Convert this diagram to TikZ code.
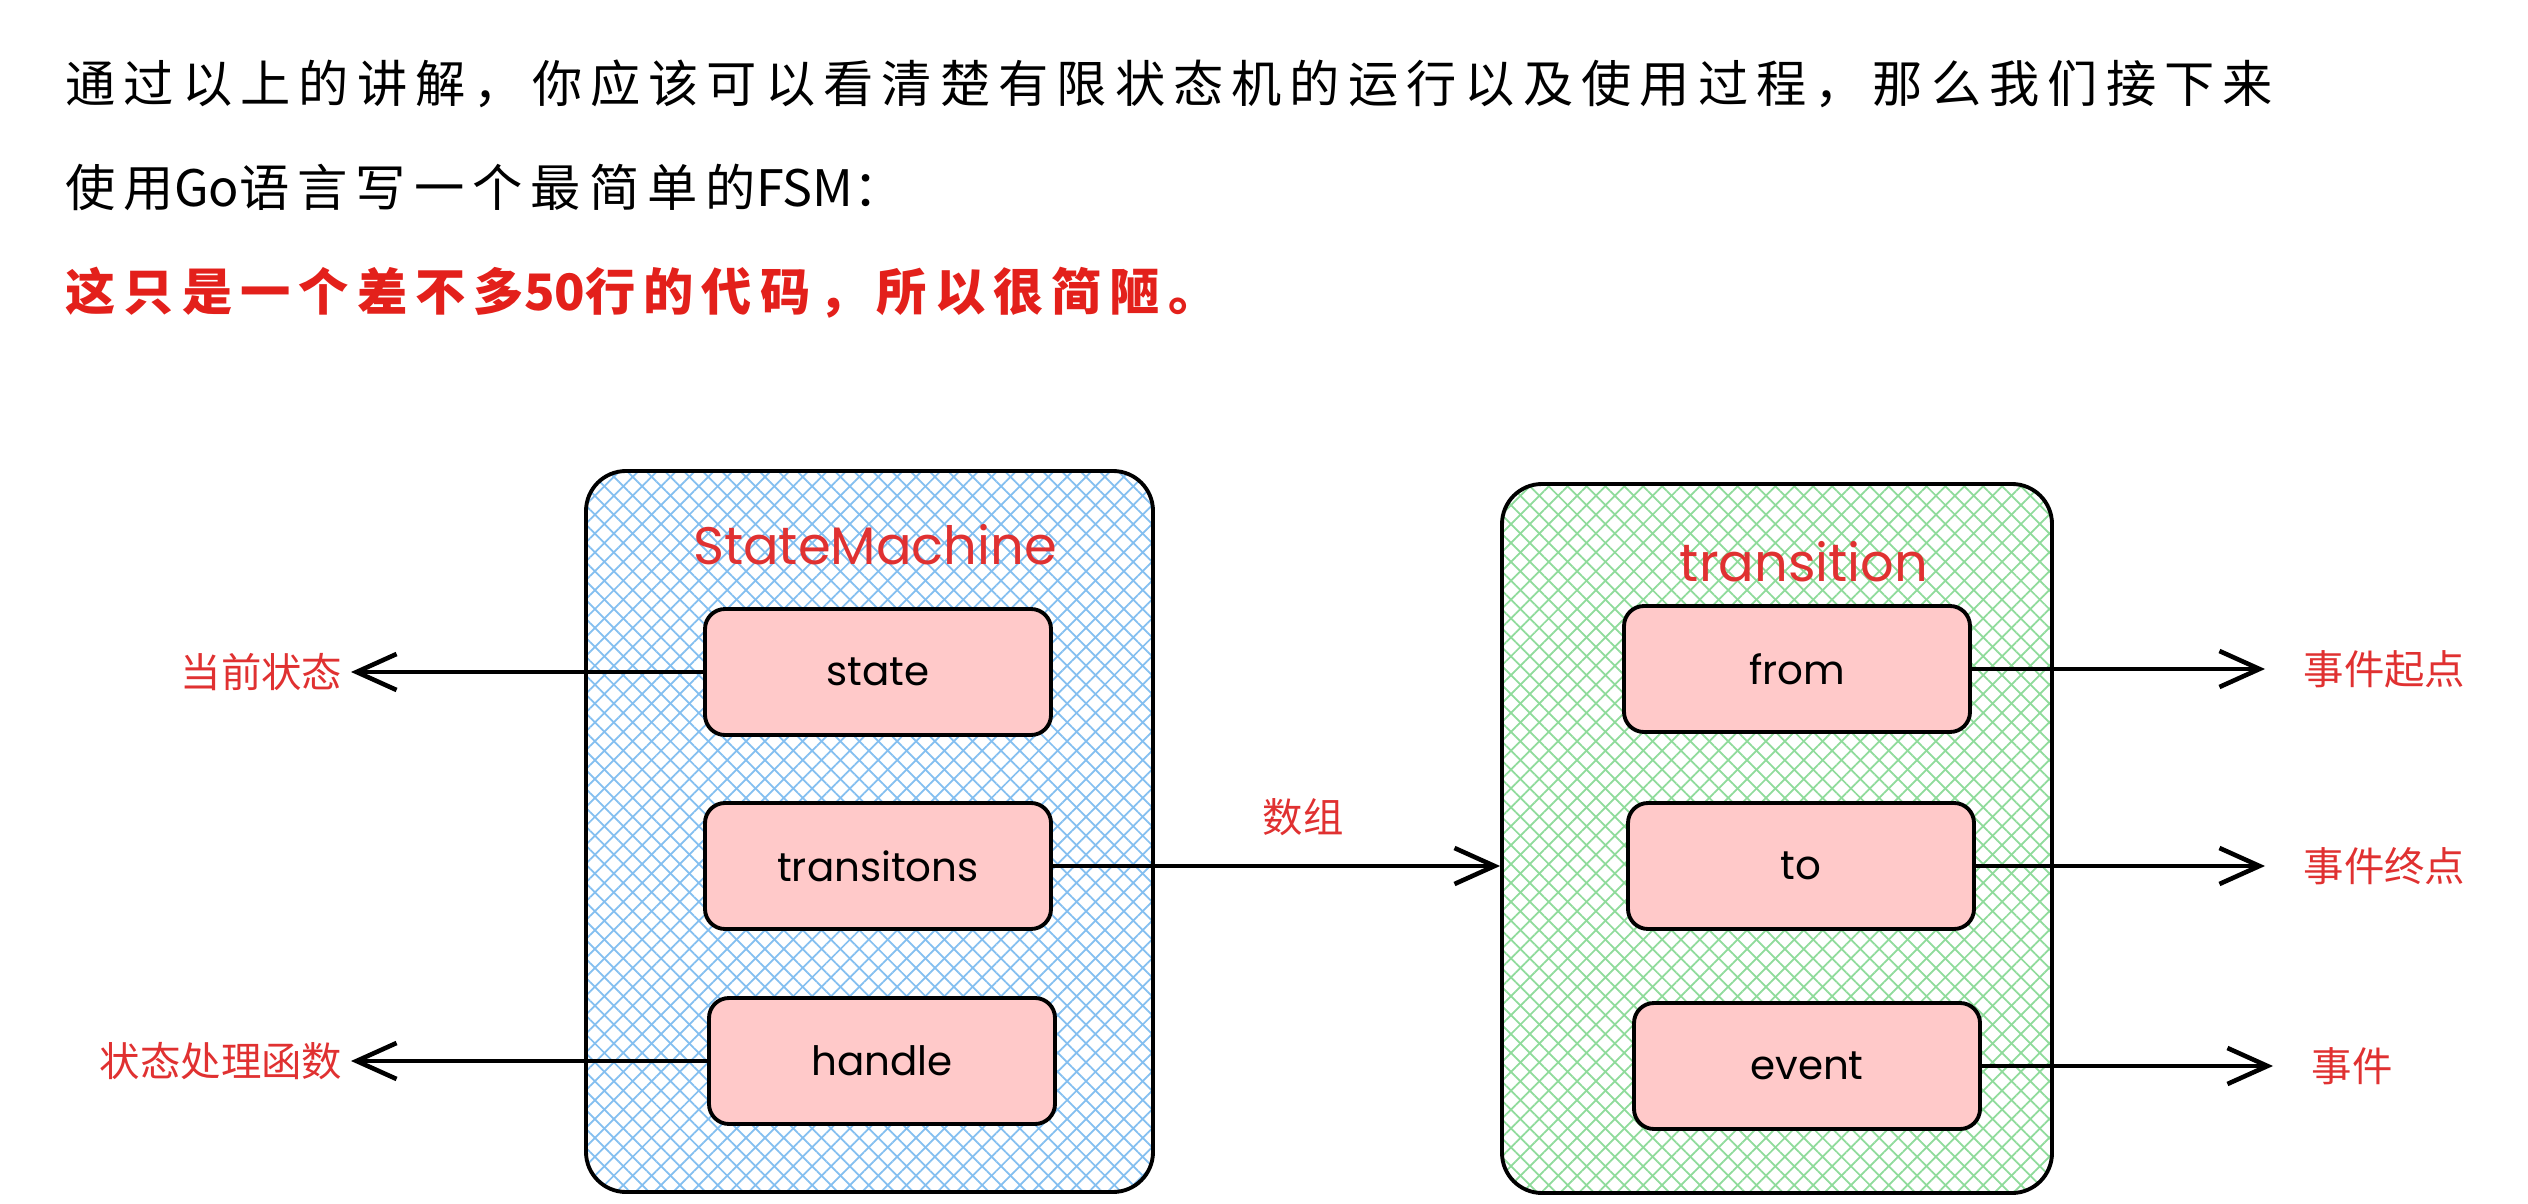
\documentclass[tikz,border=0pt]{standalone}
\usepackage{fontspec}
\usetikzlibrary{arrows.meta, patterns.meta}
\newfontfamily\cjk{Noto Sans CJK SC}
\newfontfamily\cjkwide[LetterSpace=16]{Noto Sans CJK SC}
\newfontfamily\hand{Poppins}
\definecolor{hatchblue}{HTML}{84BFF0}
\definecolor{hatchgreen}{HTML}{8FDB9B}
\definecolor{boxpink}{HTML}{FFC9C9}
\definecolor{exred}{HTML}{E03131}
\definecolor{textred}{HTML}{E3201B}
\tikzstyle{outer} = [
    rectangle,
    rounded corners=0.4cm,
    draw=black,
    line width=1.1pt,
]
\tikzstyle{field} = [
    rectangle,
    rounded corners=0.2cm,
    minimum width=3.46cm,
    minimum height=1.26cm,
    fill=boxpink,
    draw=black,
    line width=1.1pt,
    font=\hand\fontsize{11.5}{13}\selectfont,
]
\tikzstyle{title} = [text=exred, font=\hand\fontsize{15}{18}\selectfont]
\tikzstyle{note} = [text=exred, font=\cjk\fontsize{11.5}{13}\selectfont]
\tikzstyle{lnote} = [note, anchor=east, inner xsep=0.08cm]
\tikzstyle{rnote} = [note, anchor=west, inner xsep=0.38cm]
\tikzstyle{intro} = [anchor=west, inner sep=0, font=\cjkwide\fontsize{14.3}{17}\selectfont]
\tikzstyle{arrow} = [line width=1.3pt, -{Straight Barb[length=0.4cm, width=0.36cm]}]
\tikzset{hatch/.style={
    preaction={fill=white},
    preaction={pattern={Lines[angle=45, distance=3.8pt, line width=0.5pt]}, pattern color=#1},
    pattern={Lines[angle=-45, distance=3.8pt, line width=0.5pt]}, pattern color=#1}}

\begin{document}
\begin{tikzpicture}
    \useasboundingbox (0,0) rectangle (25.28,-12.04);

    % text above the picture
    \node (t1) [intro] at (0.65,-0.84) {通过以上的讲解，你应该可以看清楚有限状态机的运行以及使用过程，那么我们接下来};
    \node (t2) [intro] at (0.65,-1.87) {使用{\cjk Go}语言写一个最简单的{\cjk FSM}：};
    \node (t3) [intro, text=textred, font=\cjkwide\bfseries\fontsize{14.3}{17}\selectfont] at (0.65,-2.93) {这只是一个差不多{\cjk\bfseries 50}行的代码，所以很简陋。};

    % the two structs
    \node (sm) [outer, hatch=hatchblue, minimum width=5.67cm, minimum height=7.21cm] at (8.695,-8.315) {};
    \node (tr) [outer, hatch=hatchgreen, minimum width=5.50cm, minimum height=7.09cm] at (17.77,-8.385) {};
    \node (smt) [title] at (8.75,-5.45) {StateMachine};
    \node (trt) [title] at (18.04,-5.62) {transition};

    \node (st) [field] at (8.78,-6.72) {state};
    \node (ts) [field] at (8.78,-8.66) {transitons};
    \node (hd) [field] at (8.82,-10.61) {handle};

    \node (fm) [field] at (17.97,-6.69) {from};
    \node (tt) [field] at (18.01,-8.66) {to};
    \node (ev) [field] at (18.07,-10.66) {event};

    % notes
    \node (cs) [lnote] at (3.51,-6.72) {当前状态};
    \node (hf) [lnote] at (3.51,-10.61) {状态处理函数};
    \node (sz) [note] at (13.03,-8.17) {数组};
    \node (qd) [rnote] at (22.65,-6.69) {事件起点};
    \node (zd) [rnote] at (22.65,-8.66) {事件终点};
    \node (sj) [rnote] at (22.73,-10.66) {事件};

    \path [arrow]
        (st) edge (cs)
        (hd) edge (hf)
        (fm) edge (qd)
        (tt) edge (zd)
        (ev) edge (sj);
    \draw [arrow] (ts.east) -- (ts.east -| tr.west);
\end{tikzpicture}
\end{document}
